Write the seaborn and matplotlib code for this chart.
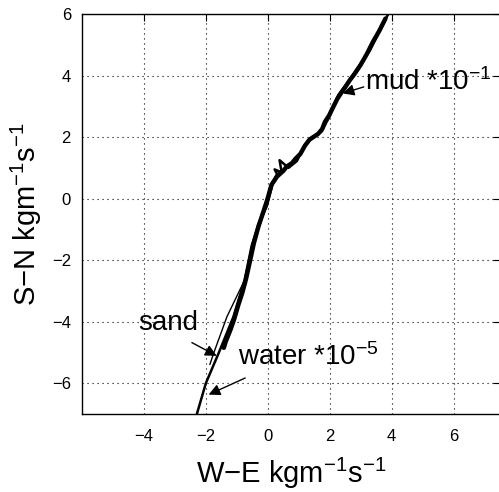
import matplotlib
matplotlib.use("Agg")
import matplotlib.pyplot as plt
import seaborn as sns
import pandas as pd

# ---- data ----
water_x = [-2.29, -2.0, -1.59, -1.11, -0.75, -0.52, -0.3, -0.03, 0.18, 0.3, 0.22,
           0.45, 0.38, 0.67, 0.94, 1.2, 1.42, 1.74, 1.96, 2.28, 2.6, 3.3, 3.89]
water_y = [-7.0, -6.0, -5.03, -3.84, -2.65, -1.53, -0.83, -0.24, 0.57, 0.8, 0.95,
           0.85, 1.25, 1.0, 1.22, 1.75, 1.97, 2.18, 2.61, 3.37, 3.8, 4.82, 6.0]

sand_x = [-1.87, -1.75, -1.32, -0.75, -0.5, -0.25, 0.0, 0.2]
sand_y = [-5.39, -5.03, -3.84, -2.65, -1.6, -0.85, -0.1, 0.6]

mud_x = [-1.42, -1.36, -1.2, -1.08, -0.95, -0.82, -0.7, -0.58, -0.45, -0.3, -0.15,
         -0.02, 0.12, 0.3, 0.5, 0.62, 0.78, 0.9, 1.05, 1.2, 1.35, 1.5, 1.62, 1.75,
         1.85, 1.98, 2.1, 2.25, 2.38, 2.5, 2.65, 2.8, 3.0, 3.2, 3.4, 3.6, 3.8]
mud_y = [-4.85, -4.65, -4.25, -3.9, -3.45, -3.05, -2.6, -2.05, -1.45, -0.9, -0.45,
         -0.05, 0.45, 0.72, 0.9, 1.05, 1.15, 1.3, 1.45, 1.72, 1.92, 2.02, 2.1, 2.25,
         2.5, 2.7, 2.95, 3.25, 3.45, 3.62, 3.85, 4.05, 4.35, 4.7, 5.1, 5.45, 5.85]

x_ticks = [-4, -2, 0, 2, 4, 6]
y_ticks = [-6, -4, -2, 0, 2, 4, 6]

sns.set_style("white")
plt.rcParams['font.family'] = ['Liberation Sans', 'DejaVu Sans']
plt.rcParams['text.color'] = 'black'
plt.rcParams['axes.labelcolor'] = 'black'
plt.rcParams['mathtext.fontset'] = 'custom'
plt.rcParams['mathtext.rm'] = 'Liberation Sans'
plt.rcParams['mathtext.it'] = 'Liberation Sans:italic'
plt.rcParams['mathtext.bf'] = 'Liberation Sans:bold'
plt.rcParams['mathtext.default'] = 'regular'

fig = plt.figure(figsize=(4.99, 4.92), dpi=100)
ax = fig.add_axes([82 / 499, 1 - 414 / 492, 418 / 499, 400 / 492])

df_w = pd.DataFrame({"x": water_x, "y": water_y})
df_s = pd.DataFrame({"x": sand_x, "y": sand_y})
df_m = pd.DataFrame({"x": mud_x, "y": mud_y})

sns.lineplot(data=df_w, x="x", y="y", sort=False, estimator=None, color="black",
             linewidth=1.8, ax=ax)
sns.lineplot(data=df_s, x="x", y="y", sort=False, estimator=None, color="black",
             linewidth=1.0, ax=ax)
sns.lineplot(data=df_m, x="x", y="y", sort=False, estimator=None, color="black",
             linewidth=3.2, ax=ax)

ax.set_xlim(-6, 7.5)
ax.set_ylim(-7, 6)
ax.set_xticks(x_ticks)
ax.set_yticks(y_ticks)
ax.set_xticklabels([str(v).replace('-', '\u2212') for v in x_ticks])
ax.set_yticklabels([str(v).replace('-', '\u2212') for v in y_ticks])
ax.tick_params(direction='in', length=5, width=0.8, top=True, right=True,
               labelsize=12, colors='black')
ax.tick_params(axis='x', pad=11)
ax.tick_params(axis='y', pad=8)
ax.grid(True, color='black', linestyle=(0, (1, 3.5)), linewidth=0.8)
for s in ax.spines.values():
    s.set_visible(True)
    s.set_color('black')
    s.set_linewidth(1.0)

ax.set_xlabel(r'W$-$E kgm$^{-1}$s$^{-1}$', fontsize=21)
ax.set_ylabel(r'S$-$N kgm$^{-1}$s$^{-1}$', fontsize=21)
ax.xaxis.set_label_coords(0.5, -0.104)
ax.yaxis.set_label_coords(-0.09, 0.5)

arrow = dict(arrowstyle='-|>', color='black', lw=1.0, mutation_scale=17,
             shrinkA=0, shrinkB=0)
ax.text(3.13, 3.8, r'mud *10$^{-1}$', fontsize=20, va='center', ha='left')
ax.annotate('', xy=(2.42, 3.42), xytext=(3.1, 3.63), arrowprops=arrow)
ax.text(-4.2, -4.05, 'sand', fontsize=20, va='center', ha='left')
ax.annotate('', xy=(-1.65, -5.11), xytext=(-2.45, -4.68), arrowprops=arrow)
ax.text(-0.95, -5.15, r'water *10$^{-5}$', fontsize=20, va='center', ha='left')
ax.annotate('', xy=(-1.91, -6.37), xytext=(-0.73, -5.83), arrowprops=arrow)

fig.savefig("out.png", dpi=100)
